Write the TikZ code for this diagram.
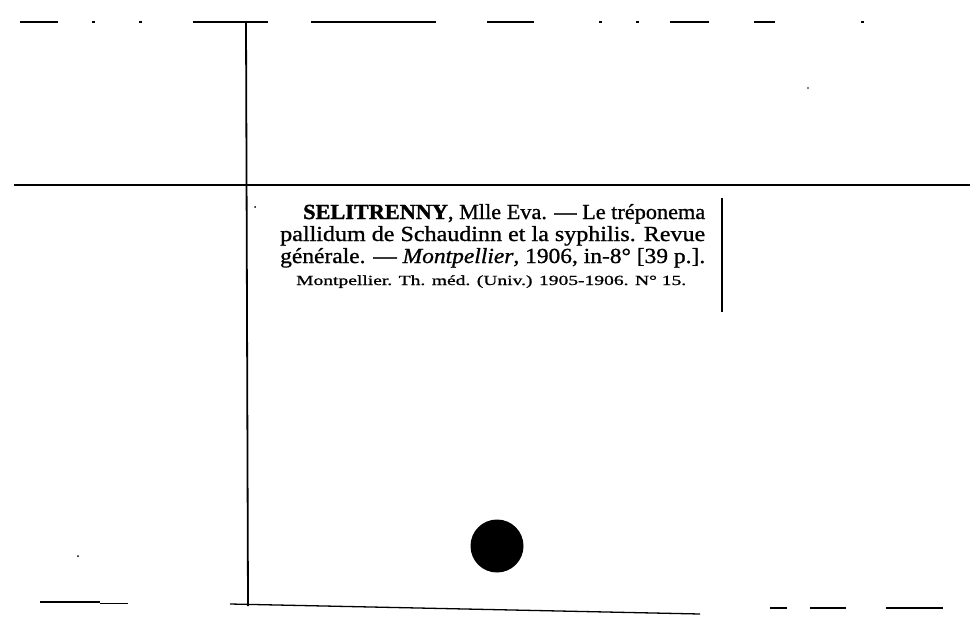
\documentclass[tikz,border=0pt]{standalone}
\usepackage{fontspec}
\setmainfont{Liberation Serif}
\newfontfamily\cardfont[FakeBold=0.9]{Liberation Serif}
\newfontfamily\cardbold[FakeBold=1.5]{Liberation Serif Bold}
\newfontfamily\carditalic[FakeBold=0.9]{Liberation Serif Italic}
\usepackage{graphicx}
\begin{document}
\begin{tikzpicture}[x=1pt,y=-1pt,
  rule/.style={line width=1.8pt,black},
  thinrule/.style={line width=1.3pt,black},
  bigtext/.style={anchor=base west,inner sep=0pt,font=\cardfont\fontsize{21.5}{22}\selectfont},
  smalltext/.style={anchor=base west,inner sep=0pt,font=\cardfont\fontsize{14}{15}\selectfont}]
\useasboundingbox[fill=white] (0,0) rectangle (979,626);
% top broken rule
\foreach \a/\b in {20/58, 92/95, 139/142, 193/268, 311/436, 487/534, 599/602, 636/639, 670/709, 754/775, 861/864}
  \draw[thinrule] (\a,22) -- (\b,22);
% vertical rule
\coordinate (vt) at (246,22);
\coordinate (vb) at (248,606);
\draw[rule] (vt) -- (vb);
% horizontal rule
\coordinate (hl) at (14,185);
\coordinate (hr) at (970,185);
\draw[rule] (hl) -- (hr);
% bottom rule
\coordinate (bl) at (230,604);
\coordinate (br) at (700,614);
\draw[thinrule] (bl) -- (br);
\draw[thinrule] (40,602) -- (100,602);
\draw[line width=0.8pt] (100,603) -- (128,603);
\foreach \a/\b in {770/787, 810/846, 886/943}
  \draw[thinrule] (\a,608) -- (\b,608);
% right bracket
\coordinate (kt) at (722,198);
\coordinate (kb) at (722,312);
\draw[rule] (kt) -- (kb);
% stray dots
\fill (255,207) circle (1pt);
\fill (808,88) circle (0.8pt);
\fill (78,556) circle (1pt);
% punched hole
\fill (497,546) circle (26.5);
% text
\node[bigtext] (l1) at (303,219) {\resizebox{402pt}{\height}{{\cardbold SELITRENNY}, Mlle Eva. — Le tréponema}};
\node[bigtext] (l2) at (280,241) {\resizebox{425pt}{\height}{pallidum de Schaudinn et la syphilis. Revue}};
\node[bigtext] (l3) at (280,263) {\resizebox{425pt}{\height}{générale. — {\carditalic Montpellier}, 1906, in-8° [39 p.].}};
\node[smalltext] (l4) at (296,285) {\resizebox{390pt}{\height}{Montpellier. Th. méd. (Univ.) 1905-1906. N° 15.}};
\end{tikzpicture}
\end{document}
